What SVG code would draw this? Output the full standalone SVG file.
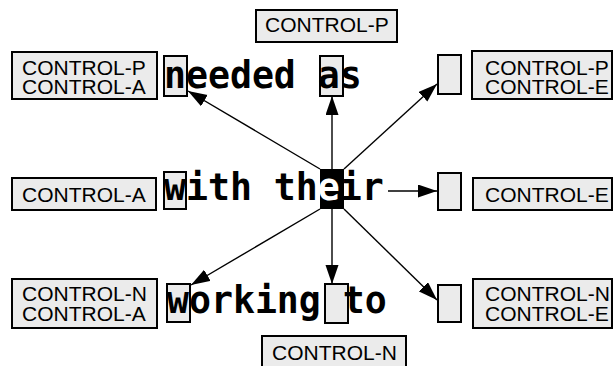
<svg xmlns="http://www.w3.org/2000/svg" width="613" height="366" viewBox="0 0 613 366">
<style>
.lbl{fill:#ebebeb;stroke:#000;stroke-width:2}
.lt{font-family:"Liberation Sans",Arial,sans-serif;font-size:21px;fill:#000}
.box{fill:#ebebeb;stroke:#000;stroke-width:2}
.big{font-family:"DejaVu Sans Mono",monospace;font-weight:bold;font-size:36.5px;fill:#000}
.con{stroke:#000;stroke-width:1.4;fill:none;marker-end:url(#ah)}
</style>
<defs>
<marker id="ah" markerUnits="userSpaceOnUse" markerWidth="20" markerHeight="14" refX="19" refY="6.5" orient="auto">
<path d="M0,0 L19,6.5 L0,13 z" fill="#000"/>
</marker>
</defs>
<rect width="613" height="366" fill="#fff"/>
<g id="label-top"><rect class="lbl" x="256" y="10" width="141" height="32"/><text class="lt" x="265" y="32">CONTROL-P</text></g>
<g id="label-tl"><rect class="lbl" x="12" y="52" width="145" height="47"/><text class="lt" x="22" y="75">CONTROL-P</text><text class="lt" x="22" y="94">CONTROL-A</text></g>
<g id="label-tr"><rect class="lbl" x="472" y="51" width="140" height="48"/><text class="lt" x="485" y="75">CONTROL-P</text><text class="lt" x="485" y="94">CONTROL-E</text></g>
<g id="label-ml"><rect class="lbl" x="12" y="178" width="144" height="32"/><text class="lt" x="22" y="202">CONTROL-A</text></g>
<g id="label-mr"><rect class="lbl" x="473" y="178" width="139" height="32"/><text class="lt" x="485" y="202">CONTROL-E</text></g>
<g id="label-bl"><rect class="lbl" x="12" y="279" width="145" height="49"/><text class="lt" x="22" y="301">CONTROL-N</text><text class="lt" x="22" y="321">CONTROL-A</text></g>
<g id="label-br"><rect class="lbl" x="473" y="279" width="139" height="49"/><text class="lt" x="485" y="301">CONTROL-N</text><text class="lt" x="485" y="321">CONTROL-E</text></g>
<g id="label-bottom"><rect class="lbl" x="262" y="336" width="144" height="40"/><text class="lt" x="272" y="360">CONTROL-N</text></g>

<g id="row1">
<rect class="box" x="164" y="56" width="23" height="40"/>
<rect class="box" x="320" y="56" width="23" height="40"/>
<text class="big" x="164" y="88">needed as</text>
</g>
<g id="row2">
<rect class="box" x="164" y="172" width="22" height="37"/>
<rect x="320" y="169" width="24" height="40" fill="#000"/>
<text class="big" x="164" y="200">with th<tspan fill="#fff">e</tspan>ir</text>
</g>
<g id="row3">
<rect class="box" x="167" y="284" width="23" height="38"/>
<rect class="box" x="325" y="284" width="23" height="39"/>
<text class="big" x="167" y="313">working to</text>
</g>
<g id="right-boxes">
<rect class="box" x="438" y="55" width="23" height="39"/>
<rect class="box" x="438" y="173" width="23" height="37"/>
<rect class="box" x="438" y="285" width="23" height="37"/>
</g>
<g id="connectors">
<line class="con" x1="320" y1="169" x2="188" y2="91"/>
<line class="con" x1="332" y1="169" x2="332" y2="96"/>
<line class="con" x1="344" y1="169" x2="437" y2="84"/>
<line class="con" x1="388" y1="191" x2="437" y2="191"/>
<line class="con" x1="320" y1="209" x2="191" y2="285"/>
<line class="con" x1="332" y1="209" x2="332" y2="284"/>
<line class="con" x1="344" y1="209" x2="437" y2="300"/>
</g>
</svg>
